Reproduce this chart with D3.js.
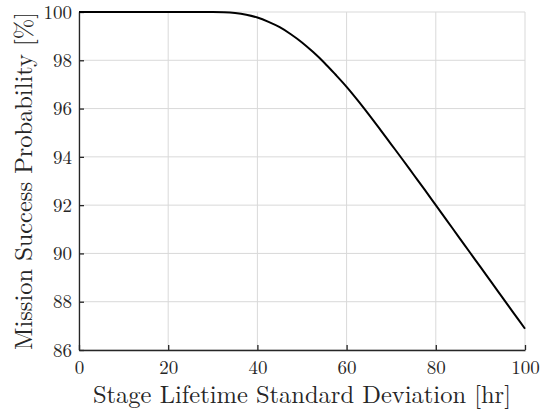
<!DOCTYPE html>
<html>
<head>
<meta charset="utf-8">
<script src="https://cdn.jsdelivr.net/npm/d3@7/dist/d3.min.js"></script>
<style>
  html, body { margin: 0; padding: 0; background: #fff; }
  svg { display: block; }
</style>
</head>
<body>
<svg id="chart" width="542" height="412"></svg>
<script>
// Data
const stdDev = [0, 10, 20, 25, 30, 32.5, 35, 37.5, 40, 42.5, 45, 47.5, 50, 52.5, 55, 57.5, 60, 62.5, 65, 67.5, 70, 72.5, 75, 77.5, 80, 82.5, 85, 87.5, 90, 92.5, 95, 97.5, 100];
const successProb = [100, 100, 100, 100, 99.998, 99.99, 99.96, 99.89, 99.77, 99.59, 99.37, 99.08, 98.74, 98.34, 97.90, 97.41, 96.90, 96.34, 95.75, 95.14, 94.52, 93.90, 93.27, 92.64, 92.00, 91.36, 90.72, 90.08, 89.44, 88.80, 88.16, 87.52, 86.88];
const xTicks = [0, 20, 40, 60, 80, 100];
const yTicks = [86, 88, 90, 92, 94, 96, 98, 100];
const xLabel = "Stage Lifetime Standard Deviation [hr]";
const yLabel = "Mission Success Probability [%]";

const FONT = '"Latin Modern Roman", "Liberation Serif", serif';
const INK = "#262626";

const svg = d3.select("#chart");
const pL = 79, pR = 525, pT = 12, pB = 350;

const x = d3.scaleLinear().domain([0, 100]).range([pL, pR]);
const y = d3.scaleLinear().domain([86, 100]).range([pB, pT]);

// grid
const grid = svg.append("g").attr("class", "grid");
grid.selectAll("line.vx").data(xTicks).join("line")
  .attr("x1", d => x(d)).attr("x2", d => x(d))
  .attr("y1", pT).attr("y2", pB)
  .attr("stroke", "#d9d9d9").attr("stroke-width", 1);
grid.selectAll("line.hy").data(yTicks).join("line")
  .attr("x1", pL).attr("x2", pR)
  .attr("y1", d => y(d)).attr("y2", d => y(d))
  .attr("stroke", "#d9d9d9").attr("stroke-width", 1);

// axes
const xAxis = svg.append("g").attr("transform", `translate(0,${pB})`)
  .call(d3.axisBottom(x).tickValues(xTicks).tickSizeInner(-5).tickSizeOuter(0).tickFormat(d3.format("d")));
const yAxis = svg.append("g").attr("transform", `translate(${pL},0)`)
  .call(d3.axisLeft(y).tickValues(yTicks).tickSizeInner(-5).tickSizeOuter(0).tickFormat(d3.format("d")));

[xAxis, yAxis].forEach(a => {
  a.select(".domain").attr("stroke", INK).attr("stroke-width", 1.3);
  a.selectAll(".tick line").attr("stroke", INK).attr("stroke-width", 1.3);
  a.selectAll(".tick text").style("font-family", FONT).style("font-size", "19px").attr("fill", INK);
});
xAxis.selectAll(".tick text").attr("y", 24).attr("dy", 0);
yAxis.selectAll(".tick text").attr("x", -7).attr("dy", "0.33em");

// curve
const line = d3.line().x((d, i) => x(stdDev[i])).y(d => y(d)).curve(d3.curveMonotoneX);
svg.append("path").datum(successProb)
  .attr("d", line)
  .attr("fill", "none").attr("stroke", "#000").attr("stroke-width", 2);

// labels
const xl = svg.append("text").attr("x", (pL + pR) / 2).attr("y", 403)
  .attr("text-anchor", "middle").attr("fill", INK)
  .style("font-family", FONT).style("font-size", "24px").text(xLabel);
const yl = svg.append("text")
  .attr("transform", `translate(32,${(pT + pB) / 2}) rotate(-90)`)
  .attr("text-anchor", "middle").attr("fill", INK)
  .style("font-family", FONT).style("font-size", "24px").text(yLabel);

// fit label widths to the reference's measured extents
function fit(sel, target) {
  const w = sel.node().getComputedTextLength();
  const fs = 24 * target / w;
  sel.style("font-size", fs.toFixed(2) + "px");
}
fit(xl, 418);
fit(yl, 338);
</script>
</body>
</html>
